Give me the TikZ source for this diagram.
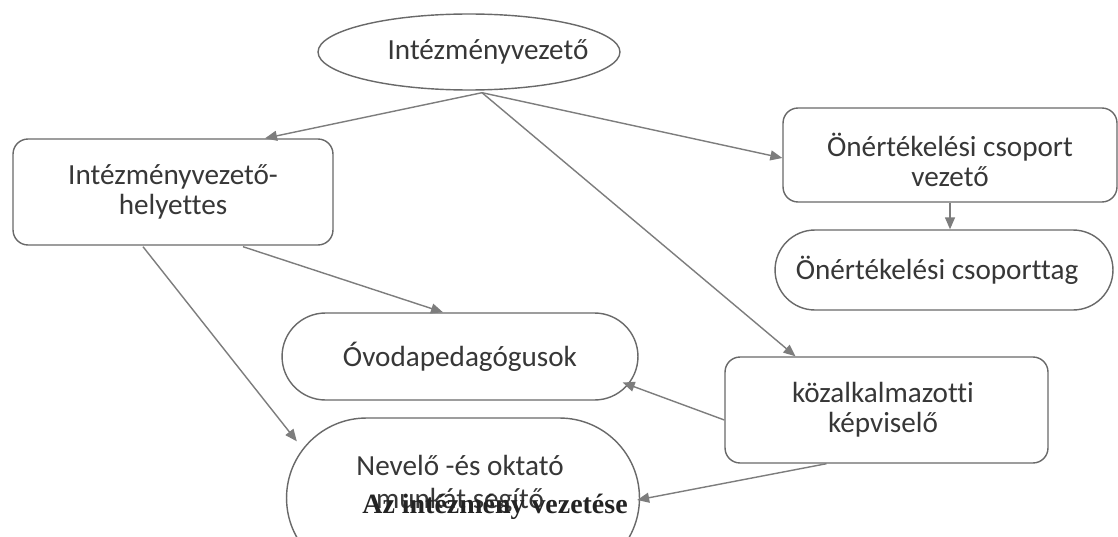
\documentclass[tikz,border=0pt]{standalone}
\usepackage{fontspec}
\setmainfont{Carlito}[Ligatures=NoCommon]
\newfontfamily\serifbold{Liberation Serif}
\usetikzlibrary{shapes.geometric,arrows.meta,calc}
\definecolor{linegray}{RGB}{125,125,125}
\definecolor{boxgray}{RGB}{105,105,105}
\definecolor{txtgray}{RGB}{55,55,55}
\definecolor{titleblack}{RGB}{35,35,35}
\begin{document}
\begin{tikzpicture}[x=0.02cm,y=-0.02cm,
  every node/.style={font=\fontsize{16.6}{17.2}\selectfont, text=txtgray, align=center},
  shapebox/.style={draw=boxgray, line width=0.8pt, inner sep=0pt, fill=white},
  conn/.style={draw=linegray, line width=0.8pt, -{Triangle[length=0.24cm,width=0.2cm]}}]
\clip (0,0) rectangle (1118,537);
\fill[white] (0,0) rectangle (1118,537);
% nodes
\node[shapebox, ellipse, minimum width=6.04cm, minimum height=1.52cm,
      label={[xshift=0.38cm]center:Intézményvezető}] (ell) at (469,52) {};
\node[shapebox, rounded corners=0.3cm, minimum width=6.4cm, minimum height=2.12cm] (hely) at (173,192) {Intézményvezető-\\helyettes};
\node[shapebox, rounded corners=0.3cm, minimum width=6.68cm, minimum height=1.88cm,
      label={[yshift=-0.1cm]center:Önértékelési csoport\\vezető}] (onv) at (950,155) {};
\node[shapebox, rounded corners=0.8cm, minimum width=6.76cm, minimum height=1.6cm,
      label={[xshift=-0.14cm]center:Önértékelési csoporttag}] (tag) at (944,270) {};
\node[shapebox, rounded corners=0.87cm, minimum width=7.12cm, minimum height=1.74cm] (ovoda) at (460,356.5) {Óvodapedagógusok};
\node[shapebox, rounded corners=1.6cm, minimum width=7.06cm, minimum height=3.2cm,
      label={[yshift=0.27cm, xshift=-0.06cm, font=\fontsize{16.6}{19}\selectfont]center:Nevelő -és oktató\\munkát segítő}] (nev) at (463,498) {};
\node[shapebox, rounded corners=0.3cm, minimum width=6.46cm, minimum height=2.12cm,
      label={[xshift=-0.07cm]center:közalkalmazotti\\képviselő}] (koz) at (886.5,410) {};
\node[font=\serifbold\bfseries\fontsize{15.9}{17}\selectfont, text=titleblack] (title) at (495,507) {Az intézmény vezetése};
% connectors
\draw[conn] ($(ell.south)+(13,2)$) -- ($(hely.north)+(92,0)$);
\draw[conn] ($(ell.south)+(13,2)$) -- ($(onv.west)+(0,3)$);
\draw[conn] ($(ell.south)+(13,2)$) -- ($(koz.north)+(-91,0)$);
\draw[conn] (onv.south) -- (onv.south |- tag.north);
\draw[conn] ($(hely.south)+(70,1)$) -- ($(ovoda.north)+(-17,0)$);
\draw[conn] ($(hely.south)+(-30,1)$) -- ($(nev.north west)+(11,24)$);
\draw[conn] ($(koz.west)+(0,10)$) -- ($(ovoda.east)+(-16,26)$);
\draw[conn] ($(koz.south)+(-60,0)$) -- ($(nev.east)+(-3,2)$);
\end{tikzpicture}
\end{document}
